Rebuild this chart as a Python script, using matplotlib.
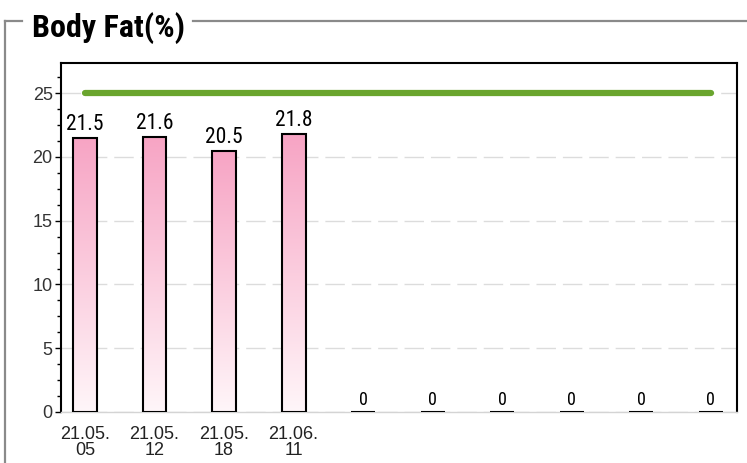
import numpy             as np
import matplotlib
matplotlib.use("Agg")
import matplotlib.pyplot as plt
from   matplotlib.colors import LinearSegmentedColormap
from   matplotlib.lines  import Line2D


# data
dates   = ['21.05.\n05', '21.05.\n12', '21.05.\n18', '21.06.\n11', '', '', '', '', '', '']
values  = [21.5, 21.6, 20.5, 21.8, 0, 0, 0, 0, 0, 0]
labels  = ['21.5', '21.6', '20.5', '21.8', '0', '0', '0', '0', '0', '0']
target  = [25] * len(values)

narrow  = ['Roboto Condensed', 'Liberation Sans Narrow', 'Roboto', 'DejaVu Sans']
plain   = ['Liberation Sans', 'DejaVu Sans']

fig = plt.figure(figsize=(7.47, 4.63), dpi=100)
ax  = fig.add_axes([61/747, 51/463, 676/747, 349/463])

xs    = np.arange(len(values))
width = 0.345

pink  = LinearSegmentedColormap.from_list("pink", ["#fff6f9", "#f7a4c4"])
grad  = np.linspace(0, 1, 256).reshape(-1, 1)

for x, v, lab in zip(xs, values, labels):
    if v > 0:
        ax.imshow(grad, extent=[x - width/2, x + width/2, 0, v], origin='lower',
                  aspect='auto', cmap=pink, zorder=2, interpolation='bilinear')
        fs = 15.5
    else:
        fs = 13
    ax.bar(x, v, width=width, facecolor='none', edgecolor='black',
           linewidth=1.5, zorder=3)
    ax.annotate(lab, (x, v), xytext=(0, 2), textcoords='offset points',
                ha='center', va='bottom', fontsize=fs, family=narrow, zorder=4)

# target line
ax.plot(xs, target, color='#6aa52e', linewidth=4.5, solid_capstyle='round', zorder=5)

ax.set_xlim(-0.345, 9.38)
ax.set_ylim(0, 27.37)

ax.set_yticks([0, 5, 10, 15, 20, 25])
ax.set_yticks(np.arange(0, 27.4, 1.25), minor=True)
ax.tick_params(axis='y', which='major', direction='out', length=4, width=1,
               labelsize=13, labelcolor='#333333', pad=2)
ax.tick_params(axis='y', which='minor', direction='out', length=3, width=1)
for t in ax.get_yticklabels():
    t.set_family(plain)

ax.set_xticks(xs)
ax.set_xticklabels(dates, fontsize=13, family=plain, linespacing=0.9, color='#222222')
ax.tick_params(axis='x', length=0, pad=10)

ax.yaxis.grid(True, linestyle=(0, (14, 5)), color='#dcdcdc', linewidth=1)
ax.set_axisbelow(True)

for s in ['left', 'right', 'top']:
    ax.spines[s].set_linewidth(1.5)
    ax.spines[s].set_color('black')
ax.spines['bottom'].set_color('#d4d4d4')
ax.spines['bottom'].set_linewidth(1)

# group box frame and title
gray = '#8a8a8a'
W, H = 747.0, 463.0
fig.add_artist(Line2D([5/W, 22/W], [1 - 21/H, 1 - 21/H], color=gray, lw=1.6))
fig.add_artist(Line2D([193/W, 1.0], [1 - 21/H, 1 - 21/H], color=gray, lw=1.6))
fig.add_artist(Line2D([5/W, 5/W], [0, 1 - 21/H], color=gray, lw=1.6))
fig.text(32/W, 1 - 37/H, 'Body Fat(%)', fontsize=23, fontweight='bold',
         family=narrow, ha='left', va='baseline')

plt.savefig("out.png", dpi=100)
